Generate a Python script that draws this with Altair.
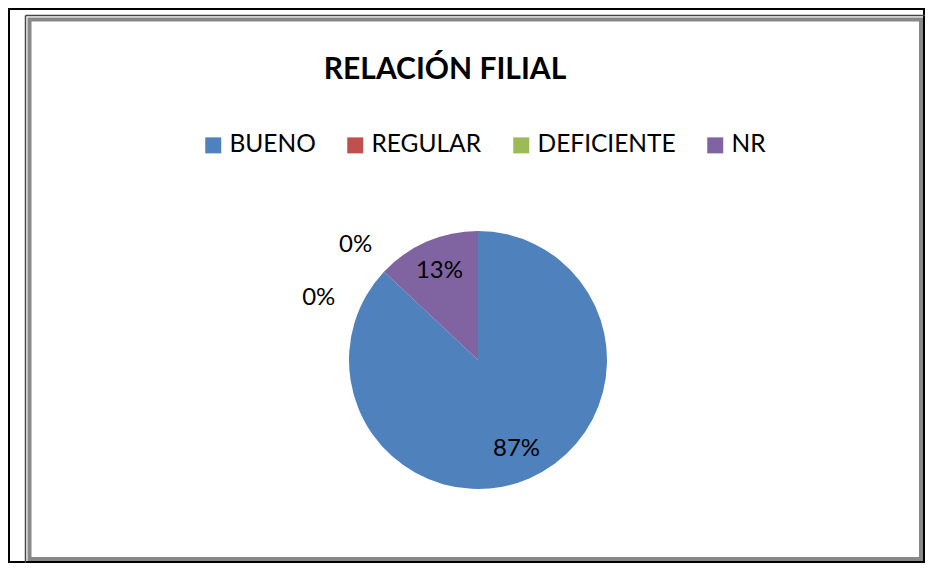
import altair as alt
import pandas as pd

categories = ["BUENO", "REGULAR", "DEFICIENTE", "NR"]
values = [87, 0, 0, 13]
colors = ["#4F81BD", "#C0504D", "#9BBB59", "#8064A2"]

df = pd.DataFrame({
    "category": categories,
    "value": values,
    "idx": list(range(len(categories))),
})

W, H = 894, 406
PL, PT = 23, 149

base = alt.Chart(df)
theta = alt.Theta("value:Q", stack=True)
order = alt.Order("idx:Q")

arc = base.mark_arc(outerRadius=129).encode(
    theta=theta,
    order=order,
    color=alt.Color(
        "category:N",
        scale=alt.Scale(domain=categories, range=colors),
        title=None,
        legend=alt.Legend(
            orient="none", legendX=170, legendY=-24, direction="horizontal",
            symbolType="square", symbolSize=256, symbolStrokeWidth=0,
            labelFont="Lato", labelFontSize=24.5, labelColor="black",
            columnPadding=27, labelOffset=4,
        ),
    ),
)

txt_style = dict(font="Lato", fontSize=24, color="black")

inner = base.transform_calculate(
    t="datum.value > 0 ? datum.value + '%' : ''"
).mark_text(radius=97, **txt_style).encode(theta=theta, order=order, text="t:N")

zero_a = base.transform_calculate(
    t="datum.category == 'DEFICIENTE' ? datum.value + '%' : ''"
).mark_text(radius=168, **txt_style).encode(theta=theta, order=order, text="t:N")

zero_b = base.transform_calculate(
    t="datum.category == 'REGULAR' ? datum.value + '%' : ''"
).mark_text(radius=165, dx=-39, dy=51, **txt_style).encode(theta=theta, order=order, text="t:N")

one = alt.Data(values=[{"a": 1}])

outer_frame = alt.Chart(one).mark_rect(filled=False, stroke="black", strokeWidth=2).encode(
    x=alt.value(1 - PL), x2=alt.value(916 - PL), y=alt.value(1 - PT), y2=alt.value(554 - PT)
)
gray_frame = alt.Chart(one).mark_rect(filled=False, stroke="#888888", strokeWidth=4).encode(
    x=alt.value(21.5 - PL), x2=alt.value(913 - PL), y=alt.value(11.5 - PT), y2=alt.value(551 - PT)
)
dark_left = alt.Chart(one).mark_rule(stroke="#444444", strokeWidth=1.5).encode(
    x=alt.value(17.5 - PL), y=alt.value(7.5 - PT), y2=alt.value(555 - PT)
)
dark_top = alt.Chart(one).mark_rule(stroke="#444444", strokeWidth=1.5).encode(
    x=alt.value(17.5 - PL), x2=alt.value(917 - PL), y=alt.value(7.5 - PT)
)

chart = alt.layer(outer_frame, gray_frame, dark_left, dark_top, arc, inner, zero_a, zero_b).properties(
    width=W, height=H,
    padding={"left": PL, "top": PT, "right": 0, "bottom": 0},
    autosize="none",
    background="white",
    title=alt.TitleParams(
        text="RELACIÓN FILIAL", font="Lato", fontSize=30, fontWeight="bold",
        color="black", anchor="middle", dx=-33, offset=70, dy=147,
    ),
).configure_view(strokeWidth=0)

chart.save("out.html", embed_options={"renderer": "svg", "actions": False})
